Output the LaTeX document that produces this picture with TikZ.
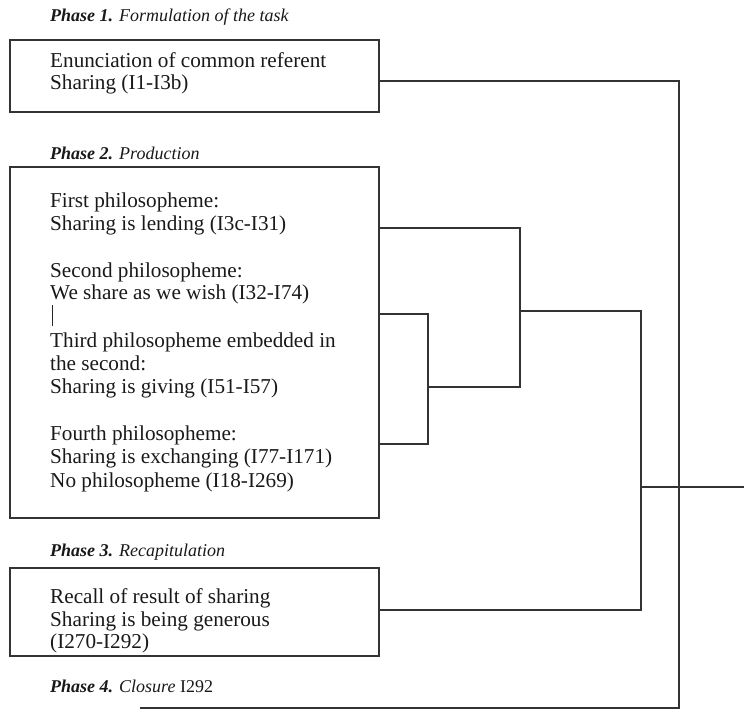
\documentclass[tikz,border=0pt]{standalone}
\usepackage{fontspec}
\setmainfont{Liberation Serif}
\begin{document}
\begin{tikzpicture}[x=1pt,y=-1pt,
  box/.style={draw=black!80, line width=1.3pt, minimum width=369pt, inner sep=0pt, outer sep=0pt, anchor=north west},
  body/.style={anchor=base west, inner sep=0pt, font=\fontsize{21.2}{23}\selectfont, text=black!90},
  phase/.style={anchor=base west, inner sep=0pt, font=\fontsize{18}{20}\selectfont, text=black!90},
  conn/.style={draw=black!80, line width=1.1pt}]
\useasboundingbox (0,0) rectangle (744,712);

% boxes
\node[box, minimum height=72pt] (b1) at (10,40) {};
\node[box, minimum height=351pt] (b2) at (10,167) {};
\node[box, minimum height=88pt] (b3) at (10,568) {};

% phase labels
\node[phase] (p1) at (50,21) {\textbf{\textit{Phase 1.}} \textit{Formulation of the task}};
\node[phase] (p2) at (50,159) {\textbf{\textit{Phase 2.}} \textit{Production}};
\node[phase] (p3) at (50,556) {\textbf{\textit{Phase 3.}} \textit{Recapitulation}};
\node[phase] (p4) at (50,692) {\textbf{\textit{Phase 4.}} \textit{Closure} I292};

% box 1 text
\node[body] (t11) at (50,67) {Enunciation of common referent};
\node[body] (t12) at (50,89) {Sharing (I1-I3b)};

% box 2 text
\node[body] (t21) at (50,207) {First philosopheme:};
\node[body] (t22) at (50,230) {Sharing is lending (I3c-I31)};
\node[body] (t23) at (50,277) {Second philosopheme:};
\node[body] (t24) at (50,299) {We share as we wish (I32-I74)};
\node[body] (t25) at (50,347) {Third philosopheme embedded in};
\node[body] (t26) at (50,370) {the second:};
\node[body] (t27) at (50,393) {Sharing is giving (I51-I57)};
\node[body] (t28) at (50,440) {Fourth philosopheme:};
\node[body] (t29) at (50,463) {Sharing is exchanging (I77-I171)};
\node[body] (t2a) at (50,487) {No philosopheme (I18-I269)};
\draw[line width=1pt, black!85] (52,305) -- (52,326);

% box 3 text
\node[body] (t31) at (50,603) {Recall of result of sharing};
\node[body] (t32) at (50,626) {Sharing is being generous};
\node[body] (t33) at (50,648) {(I270-I292)};

% junction coordinates
\coordinate (s1) at (679,81);
\coordinate (s1b) at (679,708);
\coordinate (close) at (140,708);
\coordinate (j1) at (520,228);
\coordinate (j1b) at (520,387);
\coordinate (j2) at (428,314);
\coordinate (j2b) at (428,444);
\coordinate (j2m) at (428,387);
\coordinate (j3) at (520,311);
\coordinate (j4) at (641,311);
\coordinate (j4b) at (641,610);
\coordinate (j4m) at (641,487);
\coordinate (out) at (744,487);

% connectors
\draw[conn] (b1.east |- s1) -- (s1) -- (s1b) -- (close);
\draw[conn] (b2.east |- j1) -- (j1) -- (j1b) -- (j2m);
\draw[conn] (b2.east |- j2) -- (j2) -- (j2b) -- (b2.east |- j2b);
\draw[conn] (j3) -- (j4) -- (j4b) -- (b3.east |- j4b);
\draw[conn] (j4m) -- (out);
\end{tikzpicture}
\end{document}
